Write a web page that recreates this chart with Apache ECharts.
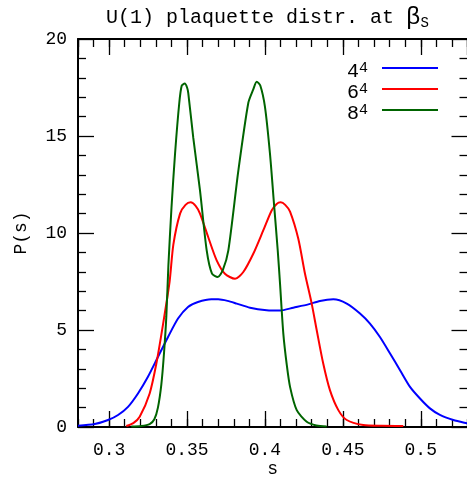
<!DOCTYPE html>
<html><head><meta charset="utf-8">
<script src="https://cdn.jsdelivr.net/npm/echarts@6/dist/echarts.min.js"></script>
<style>html,body{margin:0;padding:0;background:#fff}#c{width:467px;height:477px}</style>
</head><body><div id="c"></div>
<script>
// 4^4 lattice
const s44 = [0.280,0.2907,0.2993,0.3057,0.3121,0.3185,0.3249,0.3313,0.3378,0.3442,0.3506,0.357,0.3656,0.370,0.3760,0.3819,0.3904,0.4011,0.4097,0.4182,0.4278,0.4353,0.4439,0.4525,0.461,0.4674,0.4738,0.4803,0.4867,0.4931,0.4995,0.5059,0.5123,0.5209,0.5295,0.532];
const p44 = [0.07,0.15,0.36,0.62,1.04,1.73,2.59,3.61,4.64,5.59,6.19,6.44,6.58,6.58,6.50,6.36,6.15,6.02,6.0,6.15,6.32,6.50,6.58,6.36,5.85,5.33,4.64,3.79,2.93,2.07,1.47,0.96,0.62,0.36,0.19,0.15];
// 6^4 lattice
const s64 = [0.311,0.3155,0.3196,0.326,0.3303,0.3346,0.3388,0.3412,0.3455,0.3490,0.3523,0.3555,0.3583,0.3636,0.369,0.3743,0.3808,0.3861,0.3925,0.3989,0.4043,0.4075,0.4101,0.4130,0.4161,0.4214,0.4257,0.43,0.4332,0.4374,0.4417,0.4471,0.4525,0.4631,0.4750,0.4888];
const p64 = [0.05,0.2,0.53,1.73,3.27,5.3,7.5,9.4,11.0,11.45,11.58,11.4,11.0,9.78,8.59,7.9,7.64,7.99,8.93,10.13,11.16,11.5,11.58,11.45,11.1,9.7,7.9,6.36,5.0,3.27,1.9,0.87,0.36,0.1,0.06,0.05];
// 8^4 lattice
const s84 = [0.3142,0.3206,0.326,0.329,0.3313,0.3335,0.3352,0.3367,0.3380,0.3400,0.3423,0.345,0.3466,0.3485,0.3500,0.3508,0.354,0.3583,0.3626,0.3660,0.3697,0.3730,0.3765,0.3829,0.3893,0.3925,0.3947,0.3970,0.400,0.4032,0.4058,0.4082,0.4097,0.4118,0.4140,0.4161,0.4204,0.4268,0.4330,0.4396];
const p84 = [0.02,0.05,0.15,0.4,1.0,2.2,3.8,5.7,8.3,11.3,14.1,16.7,17.6,17.7,17.5,17.2,14.9,12.2,9.1,7.9,7.73,8.1,9.1,13.2,16.7,17.4,17.8,17.6,16.5,14.1,11.5,9.1,7.35,4.8,3.2,2.07,0.87,0.27,0.08,0.03];

const seriesNames = ['4^4','6^4','8^4'];
const seriesColors = ['#0000ff','#ff0000','#006400'];
const seriesS = [s44, s64, s84];
const seriesP = [p44, p64, p84];

const FONT = 'Liberation Mono';
const zip = (a, b) => a.map((v, i) => [v, b[i]]);

const chart = echarts.init(document.getElementById('c'), null, {renderer: 'canvas'});

function xAx(pos, main) {
  const o = {
    type: 'value', position: pos, min: 0.28, max: 0.53,
    splitLine: {show: false},
    axisLine: {show: main, onZero: false, lineStyle: {color: '#000', width: 2}},
    axisTick: {show: true, inside: true, length: main ? 16 : 8, lineStyle: {color: '#000', width: 1.3}},
    axisLabel: {show: false}
  };
  if (main) {
    o.splitNumber = 5;
  } else {
    o.interval = 0.01;
  }
  return o;
}

const xMain = xAx('bottom', true);
xMain.axisLabel = {show: true, showMinLabel: false, showMaxLabel: false, margin: 14,
  fontFamily: FONT, fontSize: 18, color: '#000'};
xMain.name = 's';
xMain.nameLocation = 'middle';
xMain.nameGap = 33;
xMain.nameMoveOverlap = false;
xMain.nameTextStyle = {fontFamily: FONT, fontSize: 18, color: '#000'};

function yAx(pos, labels) {
  return {
    type: 'value', position: pos, min: 0, max: 20, interval: 5,
    splitLine: {show: false},
    axisLine: {show: true, onZero: false, lineStyle: {color: '#000', width: 2}},
    axisTick: {show: true, inside: true, length: 16, lineStyle: {color: '#000', width: 1.3}},
    minorTick: {show: true, splitNumber: 5, length: 8, lineStyle: {color: '#000', width: 1.3}},
    axisLabel: {show: labels, margin: 11, fontFamily: FONT, fontSize: 18, color: '#000'},
    name: labels ? 'P(s)' : '',
    nameLocation: 'middle', nameGap: 48, nameMoveOverlap: false,
    nameTextStyle: {fontFamily: FONT, fontSize: 18, color: '#000', padding: [0, 0, 0, 0]}
  };
}

chart.setOption({
  animation: false,
  backgroundColor: '#fff',
  title: {
    text: '{t|U(1) plaquette distr. at }{b|β}{u|S}',
    left: 106, top: 6, padding: 0,
    textStyle: {
      fontWeight: 'normal',
      rich: {
        t: {fontFamily: FONT, fontSize: 20, lineHeight: 24, fontWeight: 'normal', color: '#000'},
        b: {fontFamily: FONT, fontSize: 24, lineHeight: 24, fontWeight: 'normal', color: '#000'},
        u: {fontFamily: FONT, fontSize: 14, lineHeight: 14, verticalAlign: 'bottom', fontWeight: 'normal', color: '#000'}
      }
    }
  },
  grid: {left: 78, right: -0.5, top: 39, bottom: 50, containLabel: false, outerBoundsMode: 'none'},
  xAxis: [xMain, xAx('bottom', false), xAx('top', true), xAx('top', false)],
  yAxis: [yAx('left', true), yAx('right', false)],
  legend: {
    orient: 'vertical', right: 29, top: 61, align: 'right', padding: 0,
    icon: 'rect', itemWidth: 56, itemHeight: 2, itemGap: 0,
    data: seriesNames,
    formatter: name => '{n|' + name.split('^')[0] + '}{s|' + name.split('^')[1] + '}',
    textStyle: {
      color: '#000', padding: [8, 9, 0, 0],
      rich: {
        n: {fontFamily: FONT, fontSize: 20, lineHeight: 22, color: '#000'},
        s: {fontFamily: FONT, fontSize: 15, lineHeight: 2, verticalAlign: 'top', padding: [0, 0, 6, 0], color: '#000'}
      }
    }
  },
  series: seriesNames.map((n, i) => ({
    name: n, type: 'line', xAxisIndex: 0, yAxisIndex: 0,
    data: zip(seriesS[i], seriesP[i]),
    showSymbol: false, symbol: 'none', smooth: 0.25,
    color: seriesColors[i],
    lineStyle: {color: seriesColors[i], width: 2},
    clip: true
  }))
});
</script></body></html>
